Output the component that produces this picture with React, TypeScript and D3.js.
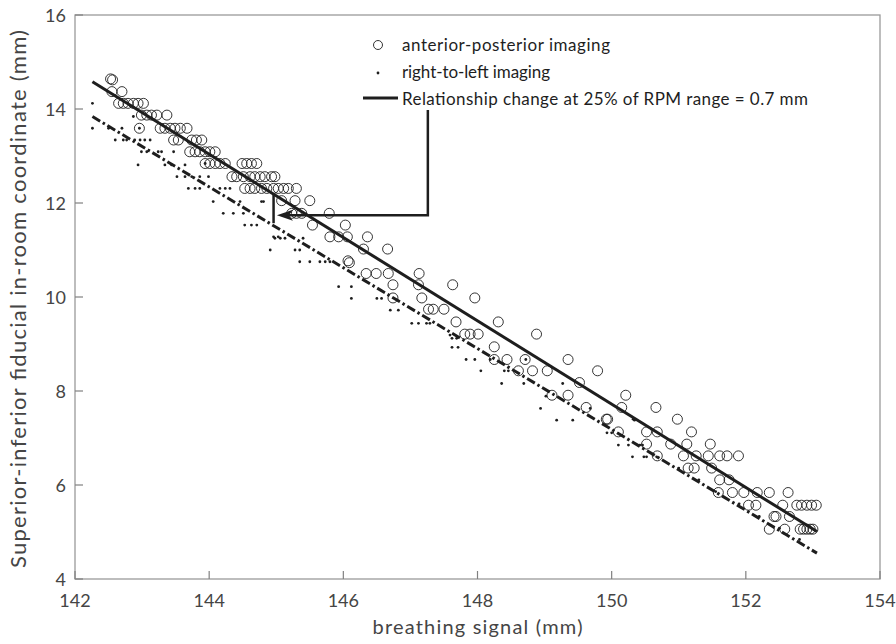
import React from "react";
import * as d3 from "d3";

const xTicks = [142, 144, 146, 148, 150, 152, 154];
const yTicks = [4, 6, 8, 10, 12, 14, 16];

// anterior-posterior imaging (open circles): [breathing signal, SI coordinate]
const apPoints: [number, number][] = [
  [142.53, 14.64], [142.56, 14.62],
  [142.55, 14.37], [142.7, 14.37],
  [142.65, 14.12], [142.72, 14.12], [142.79, 14.12], [142.87, 14.12], [142.94, 14.12], [143.02, 14.12],
  [142.99, 13.87], [143.07, 13.87], [143.14, 13.87], [143.22, 13.87], [143.37, 13.87],
  [142.96, 13.59], [143.27, 13.59], [143.34, 13.59], [143.42, 13.59], [143.49, 13.59], [143.57, 13.59], [143.67, 13.59],
  [143.47, 13.34], [143.54, 13.34], [143.74, 13.34], [143.81, 13.34], [143.89, 13.34],
  [143.71, 13.09], [143.79, 13.09], [143.86, 13.09], [143.94, 13.09], [144.01, 13.09], [144.09, 13.09],
  [143.94, 12.84], [144.01, 12.84], [144.09, 12.84], [144.16, 12.84], [144.24, 12.84], [144.49, 12.84], [144.56, 12.84], [144.63, 12.84], [144.71, 12.84],
  [144.34, 12.56], [144.41, 12.56], [144.51, 12.56], [144.61, 12.56], [144.68, 12.56], [144.76, 12.56], [144.83, 12.56], [144.93, 12.56], [144.98, 12.56],
  [144.53, 12.31], [144.61, 12.31], [144.68, 12.31], [144.78, 12.31], [144.86, 12.31], [144.96, 12.31], [145.03, 12.31], [145.11, 12.31], [145.18, 12.31], [145.3, 12.31],
  [145.08, 12.05], [145.28, 12.05], [145.5, 12.05],
  [145.23, 11.78], [145.3, 11.78], [145.38, 11.78], [145.79, 11.78],
  [145.54, 11.53], [146.03, 11.53],
  [145.8, 11.28], [145.93, 11.28], [146.06, 11.28], [146.36, 11.28],
  [146.3, 11.02], [146.66, 11.02],
  [146.07, 10.77], [146.09, 10.73],
  [146.34, 10.5], [146.49, 10.5], [146.67, 10.5], [147.13, 10.5],
  [146.74, 10.26], [147.12, 10.26], [147.63, 10.26],
  [146.74, 9.98], [147.17, 9.98], [147.96, 9.98],
  [147.27, 9.74], [147.34, 9.74], [147.5, 9.74],
  [147.68, 9.47], [148.31, 9.47],
  [147.81, 9.21], [147.89, 9.21], [148.01, 9.21], [148.88, 9.21],
  [148.25, 8.94],
  [148.25, 8.67], [148.44, 8.67], [148.71, 8.67], [149.35, 8.67],
  [148.61, 8.43], [148.82, 8.43], [149.04, 8.43], [149.79, 8.43],
  [149.52, 8.18],
  [149.11, 7.91], [149.35, 7.91], [150.21, 7.91],
  [149.62, 7.65], [150.15, 7.65], [150.66, 7.65],
  [149.92, 7.4], [149.94, 7.4], [150.98, 7.4],
  [150.1, 7.13], [150.52, 7.13], [150.68, 7.13], [151.19, 7.13],
  [150.52, 6.87], [150.88, 6.87], [151.12, 6.87], [151.47, 6.87],
  [150.68, 6.62], [151.07, 6.62], [151.26, 6.62], [151.44, 6.62], [151.61, 6.62], [151.72, 6.62], [151.89, 6.62],
  [151.14, 6.36], [151.23, 6.36], [151.49, 6.36],
  [151.61, 6.11], [151.75, 6.11],
  [151.59, 5.84], [151.8, 5.84], [151.97, 5.84], [152.17, 5.84], [152.35, 5.84], [152.63, 5.84],
  [152.04, 5.57], [152.15, 5.57], [152.55, 5.57], [152.76, 5.57], [152.83, 5.57], [152.91, 5.57], [152.98, 5.57], [153.05, 5.57],
  [152.42, 5.33], [152.45, 5.33], [152.65, 5.33],
  [152.35, 5.06], [152.58, 5.06], [152.81, 5.06], [152.86, 5.06], [152.91, 5.06], [152.96, 5.06], [153.0, 5.06],
];

// right-to-left imaging (dots)
const rlPoints: [number, number][] = [
  [142.26, 14.12], [142.26, 13.59], [142.5, 13.59], [142.7, 13.59], [142.87, 13.84], [142.96, 13.59],
  [142.6, 13.34], [142.72, 13.34], [142.77, 13.34], [142.89, 13.34], [142.97, 13.34], [143.04, 13.34], [143.12, 13.34],
  [142.99, 13.09], [143.07, 13.09], [143.24, 13.09], [143.29, 13.09], [143.47, 13.09],
  [142.94, 12.81], [143.34, 12.81], [143.44, 12.81], [143.64, 12.81], [143.94, 12.84],
  [143.52, 12.56], [143.64, 12.56], [143.74, 12.56], [143.86, 12.56], [143.99, 12.56],
  [143.69, 12.31], [143.79, 12.31], [143.86, 12.31], [144.16, 12.31], [144.24, 12.31], [144.31, 12.31],
  [144.06, 12.03], [144.46, 12.03], [144.78, 12.03], [144.81, 12.03],
  [144.21, 11.78], [144.36, 11.78], [144.51, 11.78],
  [144.53, 11.53], [144.63, 11.53], [144.71, 11.53],
  [144.96, 11.28], [145.03, 11.28], [144.98, 11.25], [145.06, 11.25], [145.13, 11.25], [145.4, 11.25],
  [144.91, 11.0], [145.28, 11.0], [145.35, 11.0],
  [145.35, 10.75], [145.5, 10.75], [145.65, 10.75], [145.73, 10.75], [145.8, 10.75],
  [145.93, 10.22], [146.12, 10.22],
  [146.12, 9.97], [146.5, 9.97], [146.57, 9.97],
  [146.7, 9.72], [146.82, 9.72],
  [147.02, 9.44], [147.12, 9.44], [147.24, 9.44], [147.29, 9.44],
  [147.62, 9.12], [147.69, 9.12], [147.59, 9.19],
  [147.62, 8.93], [147.71, 8.93],
  [147.83, 8.67], [147.96, 8.67], [148.19, 8.67], [148.72, 8.67],
  [148.05, 8.43], [148.4, 8.43], [148.46, 8.43],
  [148.36, 8.16], [148.69, 8.16], [149.27, 8.16],
  [149.02, 7.89], [148.94, 7.63], [149.68, 7.63],
  [149.18, 7.38], [149.42, 7.38], [150.34, 7.38], [150.32, 7.4],
  [149.93, 7.11], [150.0, 7.11],
  [150.1, 6.85], [150.25, 6.85], [150.42, 6.85], [150.46, 6.85],
  [150.31, 6.6], [150.48, 6.6], [150.52, 6.6], [150.67, 6.6],
  [151.0, 6.36], [151.3, 6.11], [151.55, 5.86], [151.9, 5.6], [152.2, 5.33], [152.5, 5.08], [152.8, 4.84],
];

// least-squares fit lines (endpoints)
const fitAP: [number, number][] = [[142.26, 14.58], [153.06, 5.01]];
const fitRL: [number, number][] = [[142.26, 13.84], [153.06, 4.55]];

// annotation: change at 25% of RPM range, and arrow from legend
const bracket: [number, number][] = [[144.96, 12.21], [144.96, 11.57]];
const arrowPath: [number, number][] = [[147.26, 13.98], [147.26, 11.74], [145.01, 11.74]];

const legendLabels = [
  "anterior-posterior imaging",
  "right-to-left imaging",
  "Relationship change at 25% of RPM range = 0.7 mm",
];
const legendWidths = [208, 148, 406];

const FONT = "Lato, 'Open Sans', sans-serif";
const INK = "#1e1e1e";
const GRAY = "#454545";

export default function App() {
  const W = 896, H = 644;
  const x = d3.scaleLinear().domain([142, 154]).range([75, 880]);
  const y = d3.scaleLinear().domain([4, 16]).range([579, 15]);
  const line = d3.line<[number, number]>().x((d) => x(d[0])).y((d) => y(d[1]));

  const tip = arrowPath[arrowPath.length - 1];
  const tx = x(tip[0]), ty = y(tip[1]);
  const head = `M${tx},${ty} L${tx + 16},${ty - 5.5} L${tx + 12},${ty} L${tx + 16},${ty + 5.5} Z`;
  const shaft = line(arrowPath.map((p, i) => (i === arrowPath.length - 1 ? [x.invert(tx + 12), p[1]] : p)) as [number, number][]);

  return (
    <svg width={W} height={H} style={{ position: "absolute", left: 0, top: 0, background: "#fff" }} fontFamily={FONT}>
      <rect x={0} y={0} width={W} height={H} fill="#fff" />
      {/* axes box */}
      <rect x={x(142)} y={y(16)} width={x(154) - x(142)} height={y(4) - y(16)} fill="none" stroke="#9a9a9a" strokeWidth={1.3} />
      {xTicks.map((t) => (
        <g key={"xt" + t}>
          <line x1={x(t)} x2={x(t)} y1={y(4)} y2={y(4) - 8} stroke="#808080" strokeWidth={1.2} />
          <text x={x(t)} y={607} textAnchor="middle" fontSize={18} fill={GRAY}>{t}</text>
        </g>
      ))}
      {yTicks.map((t) => (
        <g key={"yt" + t}>
          <line x1={x(142)} x2={x(142) + 8} y1={y(t)} y2={y(t)} stroke="#808080" strokeWidth={1.2} />
          <text x={66} y={y(t) + 6.5} textAnchor="end" fontSize={18} fill={GRAY}>{t}</text>
        </g>
      ))}
      <text x={(x(142) + x(154)) / 2} y={634} textAnchor="middle" fontSize={20} fill={GRAY}
        textLength={210} lengthAdjust="spacing">breathing signal (mm)</text>
      <text transform={`translate(26,${(y(4) + y(16)) / 2 + 2}) rotate(-90)`} textAnchor="middle" fontSize={22} fill={GRAY}
        textLength={538} lengthAdjust="spacing">
        Superior-inferior fiducial in-room coordinate (mm)
      </text>

      {/* data */}
      {apPoints.map((d, i) => (
        <circle key={"ap" + i} cx={x(d[0])} cy={y(d[1])} r={5} fill="none" stroke={INK} strokeWidth={0.9} />
      ))}
      {rlPoints.map((d, i) => (
        <circle key={"rl" + i} cx={x(d[0])} cy={y(d[1])} r={1.4} fill={INK} />
      ))}
      <path d={line(fitAP) || ""} stroke={INK} strokeWidth={3} fill="none" />
      <path d={line(fitRL) || ""} stroke={INK} strokeWidth={3} fill="none" strokeDasharray="9,3,2.5,3" />

      {/* annotation */}
      <path d={line(bracket) || ""} stroke={INK} strokeWidth={2.5} fill="none" />
      <path d={shaft || ""} stroke={INK} strokeWidth={2.5} fill="none" />
      <path d={head} fill={INK} />

      {/* legend */}
      <circle cx={378} cy={45} r={4.5} fill="none" stroke={INK} strokeWidth={0.9} />
      <circle cx={378} cy={73} r={1.4} fill={INK} />
      <line x1={363} x2={398} y1={98} y2={98} stroke={INK} strokeWidth={3} />
      {legendLabels.map((s, i) => (
        <text key={s} x={402} y={51 + i * 27} fontSize={17} fill={INK}
          textLength={legendWidths[i]} lengthAdjust="spacing">{s}</text>
      ))}
    </svg>
  );
}
